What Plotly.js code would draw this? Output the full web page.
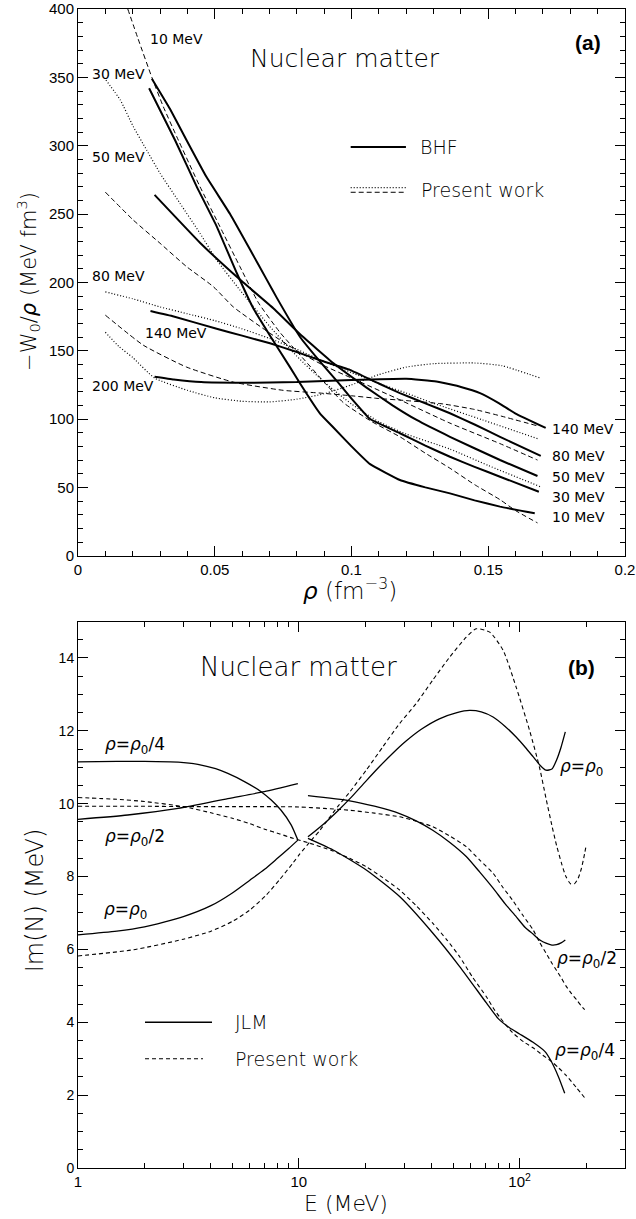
<!DOCTYPE html>
<html>
<head>
<meta charset="utf-8">
<script src="https://cdn.plot.ly/plotly-3.0.1.min.js"></script>
<style>
  html, body { margin: 0; padding: 0; background: #fff; }
  #chart { width: 636px; height: 1219px; }
</style>
</head>
<body>
<div id="chart"></div>
<script>
// ---------- Panel (a): -W0/rho versus density, nuclear matter ----------
// BHF results (solid)
const bhf10Rho  = [0.026,0.0355,0.0434,0.0507,0.058,0.0641,0.0705,0.0775,0.0812,0.0885,0.0933,0.1,0.1068,0.1177,0.127,0.136,0.145,0.1543,0.167];
const bhf10W    = [342,304,270,241,207,181,160,138,126,104,94,80,67,55.4,50,45.6,40.5,35.9,31];
const bhf30Rho  = [0.027,0.0336,0.0397,0.047,0.0556,0.0629,0.069,0.0726,0.0812,0.0885,0.095,0.1,0.1068,0.1177,0.127,0.136,0.145,0.1543,0.1685];
const bhf30W    = [349,327,304,277,250,224,202,189,160,142,127,115,100,89.6,80.5,72.4,65,57.8,46.8];
const bhf50Rho  = [0.028,0.0446,0.0592,0.0714,0.0812,0.0933,0.1055,0.115,0.1238,0.136,0.1543,0.168];
const bhf50W    = [264,229,202,181,162,141,123,110,99.3,87,70,58.3];
const bhf80Rho  = [0.0265,0.035,0.0507,0.06,0.0702,0.08,0.0885,0.0994,0.11,0.1177,0.127,0.136,0.145,0.1543,0.1692];
const bhf80W    = [179,175,166,161,155.4,149,143,136,126,119,111.5,104.2,96,87,73];
const bhf140Rho = [0.028,0.035,0.045,0.06,0.08,0.1,0.12,0.131,0.14,0.147,0.154,0.16,0.171];
const bhf140W   = [131,129,127,126.5,127,128.5,129.5,127.5,123.5,119,111.5,104,93.5];

// Present work (dashed / dotted alternating with energy)
const pw10Rho  = [0.0182,0.022,0.027,0.0312,0.0361,0.0446,0.0519,0.0592,0.066,0.074,0.082,0.09,0.097,0.1075,0.1177,0.127,0.136,0.145,0.1543,0.16,0.168];
const pw10W    = [400,378,350,328.5,306.6,270,240.7,211.5,185,163,145,127,112,98,87,75,64,52,41,33,24];
const pw30Rho  = [0.0102,0.0154,0.0202,0.0251,0.03,0.0373,0.0446,0.0507,0.0592,0.07,0.08,0.09,0.1,0.11,0.12,0.136,0.15,0.169];
const pw30W    = [348,333.6,314,296.8,279.8,257.8,235.9,216.4,194.4,168,146,127,111,98,89,78,66,50.5];
const pw50Rho  = [0.01,0.0202,0.03,0.0397,0.0495,0.0568,0.07,0.08,0.09,0.1,0.1177,0.136,0.1543,0.168];
const pw50W    = [266,245.6,228.6,211.5,196.8,182,163,150,139,130,114,97,82,70];
const pw80Rho  = [0.01,0.02,0.03,0.04,0.05,0.06,0.07,0.08,0.09,0.1,0.11,0.12,0.13,0.148,0.1687];
const pw80W    = [193,188,182,177,172,166,159,151,142,134,126,119,111.5,99.3,85.2];
const pw140Rho = [0.01,0.0239,0.0397,0.0568,0.075,0.0885,0.1,0.11,0.12,0.1336,0.145,0.155,0.168];
const pw140W   = [176,154,138,127,121,119,117,115,113.5,111,107,102,95];
const pw200Rho = [0.01,0.015,0.02,0.028,0.04,0.05,0.06,0.07,0.08,0.09,0.1,0.11,0.12,0.13,0.145,0.155,0.169];
const pw200W   = [163.5,153,145,130,121,115.5,113,112.5,114.5,118.5,125,132.5,138,140.5,141,139,130];

// ---------- Panel (b): Im(N) versus energy ----------
// JLM (solid), two branches each: below and above 10 MeV
const jlmQ4LowE  = [1,1.5,2,2.84,3.49,4.2,4.77,5.7,6.75,7.5,8.31,9.23,9.9];
const jlmQ4LowIm = [11.15,11.16,11.16,11.14,11.08,10.96,10.83,10.6,10.33,10.1,9.82,9.42,9.0];
const jlmQ4HiE   = [11,14.3,20.2,28.6,40.4,53.5,70.7,80,90,100,115,130,139,150,160];
const jlmQ4HiIm  = [9.05,8.73,8.18,7.45,6.45,5.53,4.53,4.1,3.85,3.68,3.45,3.2,2.93,2.5,2.05];
const jlmH2LowE  = [1,1.68,2.84,4.77,6.98,9.9];
const jlmH2LowIm = [9.57,9.69,9.87,10.14,10.33,10.55];
const jlmH2HiE   = [11,17,22,28.6,34,40.4,48,57.3,66,75.8,86,96.4,106,115,124,131.6,140,147,154,161];
const jlmH2HiIm  = [10.22,10.08,9.93,9.73,9.53,9.27,8.95,8.55,8.12,7.68,7.25,6.9,6.6,6.42,6.25,6.17,6.12,6.13,6.18,6.26];
const jlmR0LowE  = [1,1.5,2,3,4,5,6,7,8,9,9.9];
const jlmR0LowIm = [6.4,6.5,6.62,6.9,7.2,7.55,7.9,8.2,8.5,8.77,9.0];
const jlmR0HiE   = [11,13,15,17.3,20,23.2,27,30.6,36,43.3,52,59.3,67,75.8,86,96.4,106,115,124,131.6,140,147,154,161];
const jlmR0HiIm  = [9.09,9.45,9.8,10.18,10.6,11.02,11.42,11.72,12.05,12.33,12.5,12.56,12.52,12.38,12.12,11.83,11.55,11.29,11.05,10.92,10.95,11.2,11.55,11.97];

// Present work (dashed)
const pwQ4E  = [1,1.5,2,3,4,5,6,7,8.2,9.4,11,14,17,20.2,24,28.6,34,40.4,47,53.5,61,70.7,75.8,81,92.7,105,115,127,139,150,162,180,200];
const pwQ4Im = [10.17,10.12,10.06,9.92,9.75,9.6,9.45,9.3,9.17,9.05,8.93,8.72,8.5,8.27,7.97,7.63,7.2,6.72,6.25,5.8,5.25,4.7,4.4,4.15,3.72,3.45,3.3,3.1,2.93,2.75,2.55,2.22,1.88];
const pwH2E  = [1,2,3,5,7,10,13,17,22,28.6,34,40.4,48,57.3,66,75.8,84,92.7,103,115,123,131.6,140,147,155,162,172,181,190,197];
const pwH2Im = [9.93,9.93,9.92,9.92,9.92,9.91,9.87,9.82,9.74,9.64,9.52,9.37,9.12,8.82,8.45,8.09,7.7,7.36,6.95,6.54,6.2,5.9,5.62,5.42,5.2,5.0,4.78,4.62,4.45,4.35];
const pwR0E  = [1,1.78,3,4,5.04,6,7.14,8.2,9.43,10.1,11.4,12.5,15,17,20.2,24,28.6,34,40.4,48.3,57.3,63.5,73.2,84.2,96.4,110.8,123,131.6,140,147,155,162,170,177,184,190,195,200];
const pwR0Im = [5.82,5.99,6.28,6.5,6.78,7.08,7.5,7.92,8.38,8.62,9.0,9.28,9.92,10.32,10.92,11.56,12.2,12.75,13.39,14.03,14.57,14.8,14.71,14.21,13.2,12.02,11.0,10.15,9.4,8.85,8.35,8.0,7.8,7.8,7.95,8.2,8.5,8.85];

// Tick labels
const aXTicks = [0, 0.05, 0.1, 0.15, 0.2];
const bXTickVals = [1, 10, 100];
const bXTickText = ['1', '10', '10<sup>2</sup>'];
const bXMinorVals = [2,3,4,5,6,7,8,9,20,30,40,50,60,70,80,90,200];

// ---------- styling ----------
const INK = '#000';
const SOLID_A = {color: INK, width: 2};
const DOT_A   = {color: INK, width: 1.2, dash: '1px,2px'};
const DASH_A  = {color: INK, width: 1, dash: '5px,3px'};
const SOLID_B = {color: INK, width: 1.3};
const DASH_B  = {color: INK, width: 1.1, dash: '4px,3px'};

function curve(x, y, line, xa, ya, smooth) {
  const ln = Object.assign({shape: 'spline', smoothing: smooth}, line);
  return {x: x, y: y, type: 'scatter', mode: 'lines', line: ln,
          xaxis: xa, yaxis: ya, hoverinfo: 'skip', showlegend: false};
}

const traces = [
  curve(pw10Rho,  pw10W,  DASH_A, 'x', 'y', 0.5),
  curve(pw30Rho,  pw30W,  DOT_A,  'x', 'y', 0.5),
  curve(pw50Rho,  pw50W,  DASH_A, 'x', 'y', 0.5),
  curve(pw80Rho,  pw80W,  DOT_A,  'x', 'y', 0.5),
  curve(pw140Rho, pw140W, DASH_A, 'x', 'y', 0.5),
  curve(pw200Rho, pw200W, DOT_A,  'x', 'y', 0.5),
  curve(bhf10Rho,  bhf10W,  SOLID_A, 'x', 'y', 0.3),
  curve(bhf30Rho,  bhf30W,  SOLID_A, 'x', 'y', 0.3),
  curve(bhf50Rho,  bhf50W,  SOLID_A, 'x', 'y', 0.3),
  curve(bhf80Rho,  bhf80W,  SOLID_A, 'x', 'y', 0.3),
  curve(bhf140Rho, bhf140W, SOLID_A, 'x', 'y', 0.3),

  curve(pwQ4E, pwQ4Im, DASH_B, 'x2', 'y2', 0.6),
  curve(pwH2E, pwH2Im, DASH_B, 'x2', 'y2', 0.6),
  curve(pwR0E, pwR0Im, DASH_B, 'x2', 'y2', 0.6),
  curve(jlmQ4LowE, jlmQ4LowIm, SOLID_B, 'x2', 'y2', 0.6),
  curve(jlmQ4HiE,  jlmQ4HiIm,  SOLID_B, 'x2', 'y2', 0.6),
  curve(jlmH2LowE, jlmH2LowIm, SOLID_B, 'x2', 'y2', 0.6),
  curve(jlmH2HiE,  jlmH2HiIm,  SOLID_B, 'x2', 'y2', 0.6),
  curve(jlmR0LowE, jlmR0LowIm, SOLID_B, 'x2', 'y2', 0.6),
  curve(jlmR0HiE,  jlmR0HiIm,  SOLID_B, 'x2', 'y2', 0.6)
];

const TICKFONT = {family: 'Liberation Sans, Arial, sans-serif', size: 15, color: INK};
const LABELFONT = {family: 'DejaVu Sans, sans-serif', size: 14, color: INK};
const TITLEFONT = 'DejaVu Sans, sans-serif';

const axisBase = {
  showline: true, linecolor: INK, linewidth: 1, mirror: 'ticks',
  ticks: 'inside', ticklen: 10, tickwidth: 1, tickcolor: INK,
  showgrid: false, zeroline: false, tickfont: TICKFONT, automargin: false
};

// text labels
function note(text, x, y, xref, yref, font, extra) {
  return Object.assign({text: text, x: x, y: y, xref: xref, yref: yref,
    showarrow: false, xanchor: 'left', yanchor: 'middle', font: font}, extra || {});
}
const thin = (size) => ({family: TITLEFONT, size: size, color: INK, weight: 200});
const rhoFont = {family: TITLEFONT, size: 17, color: INK};
const boldFont = {family: 'Liberation Sans, Arial, sans-serif', size: 21, color: INK, weight: 'bold'};
const centered = {xanchor: 'center'};

const annotations = [
  // axis titles
  note('<i>ρ</i> (fm<sup>−3</sup>)', 0.497, 0.4996, 'paper', 'paper', thin(23), centered),
  note('−W<sub>0</sub>/<i>ρ</i> (MeV fm<sup>3</sup>)', -0.0914, 0.7645, 'paper', 'paper', thin(21), {xanchor: 'center', textangle: -90}),
  note('E (MeV)', 0.49, -0.0302, 'paper', 'paper', thin(22), centered),
  note('Im(N) (MeV)', -0.0786, 0.231, 'paper', 'paper', thin(24), {xanchor: 'center', textangle: -90}),
  // panel (a)
  note('Nuclear matter', 0.0976, 364, 'x', 'y', thin(25), centered),
  note('(a)', 0.1865, 375.8, 'x', 'y', boldFont, centered),
  note('BHF', 0.1243, 299, 'x', 'y', thin(19)),
  note('Present work', 0.1245, 267.6, 'x', 'y', thin(19)),
  note('10 MeV', 0.0256, 378, 'x', 'y', LABELFONT),
  note('30 MeV', 0.0044, 352.5, 'x', 'y', LABELFONT),
  note('50 MeV', 0.0044, 291.4, 'x', 'y', LABELFONT),
  note('80 MeV', 0.0044, 204.7, 'x', 'y', LABELFONT),
  note('140 MeV', 0.0238, 163, 'x', 'y', LABELFONT),
  note('200 MeV', 0.0044, 124.2, 'x', 'y', LABELFONT),
  note('140 MeV', 0.1726, 92.7, 'x', 'y', LABELFONT),
  note('80 MeV', 0.1726, 73, 'x', 'y', LABELFONT),
  note('50 MeV', 0.1726, 57.6, 'x', 'y', LABELFONT),
  note('30 MeV', 0.1726, 43.3, 'x', 'y', LABELFONT),
  note('10 MeV', 0.1726, 28, 'x', 'y', LABELFONT),
  // panel (b); x positions are log10(E)
  note('Nuclear matter', 1.0, 13.74, 'x2', 'y2', thin(26), centered),
  note('(b)', 2.281, 13.74, 'x2', 'y2', boldFont, centered),
  note('<i>ρ</i>=<i>ρ</i><sub>0</sub>/4', 0.113, 11.6, 'x2', 'y2', rhoFont),
  note('<i>ρ</i>=<i>ρ</i><sub>0</sub>/2', 0.113, 9.06, 'x2', 'y2', rhoFont),
  note('<i>ρ</i>=<i>ρ</i><sub>0</sub>', 0.109, 7.08, 'x2', 'y2', rhoFont),
  note('<i>ρ</i>=<i>ρ</i><sub>0</sub>', 2.172, 11.0, 'x2', 'y2', rhoFont),
  note('<i>ρ</i>=<i>ρ</i><sub>0</sub>/2', 2.158, 5.71, 'x2', 'y2', rhoFont),
  note('<i>ρ</i>=<i>ρ</i><sub>0</sub>/4', 2.149, 3.19, 'x2', 'y2', rhoFont),
  note('JLM', 0.701, 4.0, 'x2', 'y2', thin(19)),
  note('Present work', 0.701, 3.0, 'x2', 'y2', thin(19))
];

// legend samples
const shapes = [
  {type: 'line', xref: 'x', yref: 'y', x0: 0.0997, x1: 0.1199, y0: 299, y1: 299, line: {color: INK, width: 2}},
  {type: 'line', xref: 'x', yref: 'y', x0: 0.0997, x1: 0.1199, y0: 269.3, y1: 269.3, line: {color: INK, width: 1.2, dash: '1px,2px'}},
  {type: 'line', xref: 'x', yref: 'y', x0: 0.0997, x1: 0.1199, y0: 265.9, y1: 265.9, line: {color: INK, width: 1, dash: '5px,3px'}},
  {type: 'line', xref: 'paper', yref: 'y2', x0: 0.1225, x1: 0.245, y0: 4.0, y1: 4.0, line: {color: INK, width: 1.3}},
  {type: 'line', xref: 'paper', yref: 'y2', x0: 0.1225, x1: 0.2285, y0: 3.0, y1: 3.0, line: {color: INK, width: 1.1, dash: '4px,3px'}}
];

const layout = {
  width: 636, height: 1219,
  margin: {l: 78, r: 11, t: 9, b: 51},
  paper_bgcolor: '#fff', plot_bgcolor: '#fff',
  showlegend: false,
  xaxis: Object.assign({}, axisBase, {
    anchor: 'y', domain: [0, 1], range: [0, 0.2],
    tickmode: 'array', tickvals: aXTicks,
    minor: {dtick: 0.01, ticks: 'inside', ticklen: 5, tickcolor: INK}
  }),
  yaxis: Object.assign({}, axisBase, {
    anchor: 'x', domain: [0.5283, 1], range: [0, 400], dtick: 50,
    minor: {dtick: 10, ticks: 'inside', ticklen: 5, tickcolor: INK}
  }),
  xaxis2: Object.assign({}, axisBase, {
    anchor: 'y2', domain: [0, 1], type: 'log', range: [0, Math.log10(300)],
    tickmode: 'array', tickvals: bXTickVals, ticktext: bXTickText,
    minor: {tickmode: 'array', tickvals: bXMinorVals, ticks: 'inside', ticklen: 5, tickcolor: INK}
  }),
  yaxis2: Object.assign({}, axisBase, {
    anchor: 'x2', domain: [0, 0.4715], range: [0, 15], dtick: 2,
    tickfont: {family: 'Liberation Sans, Arial, sans-serif', size: 14, color: INK},
    minor: {dtick: 0.5, ticks: 'inside', ticklen: 5, tickcolor: INK}
  }),
  annotations: annotations,
  shapes: shapes
};

Plotly.newPlot('chart', traces, layout, {staticPlot: true, displayModeBar: false});
</script>
</body>
</html>
